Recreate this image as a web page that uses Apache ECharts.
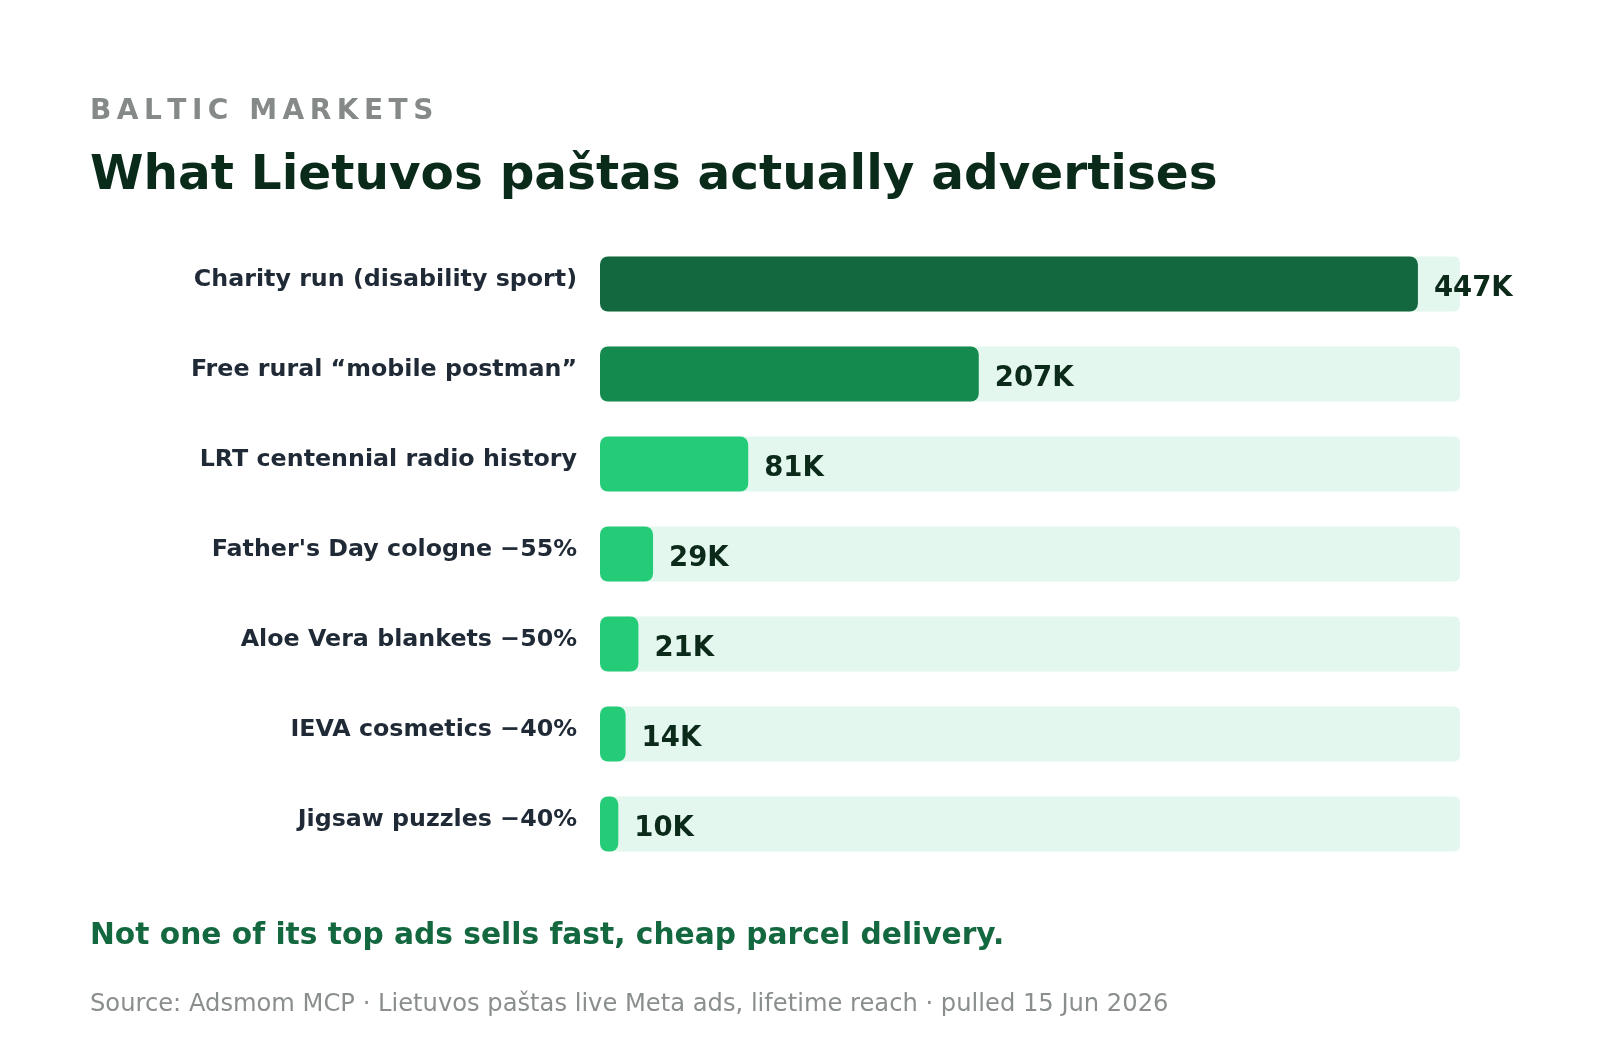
<!DOCTYPE html>
<html><head><meta charset="utf-8">
<script src="https://cdn.jsdelivr.net/npm/echarts@6/dist/echarts.min.js"></script>
<style>html,body{margin:0;padding:0;background:#fff}#c{width:1600px;height:1050px}</style>
</head><body><div id="c"></div>
<script>
// ---- data ----
const categories = [
  'Charity run (disability sport)',
  'Free rural \u201cmobile postman\u201d',
  'LRT centennial radio history',
  "Father's Day cologne \u221255%",
  'Aloe Vera blankets \u221250%',
  'IEVA cosmetics \u221240%',
  'Jigsaw puzzles \u221240%'
];
const reachK = [447, 207, 81, 29, 21, 14, 10];
const axisMaxK = 470;
const kickerText = 'BALTIC MARKETS';
const titleText = 'What Lietuvos pa\u0161tas actually advertises';
const takeawayText = 'Not one of its top ads sells fast, cheap parcel delivery.';
const sourceText = 'Source: Adsmom MCP \u00b7 Lietuvos pa\u0161tas live Meta ads, lifetime reach \u00b7 pulled 15 Jun 2026';

// ---- styles ----
const FONT = '"DejaVu Sans", sans-serif';
const rankColors = ['#14683f', '#158a4e', '#25cc78'];

const chart = echarts.init(document.getElementById('c'), null, {renderer: 'canvas'});

// letter-spaced kicker, built char by char
const mctx = document.createElement('canvas').getContext('2d');
const kSize = 28, kSpacing = 5.5;
mctx.font = 'bold ' + kSize + 'px ' + FONT;
const kickerEls = [];
let kx = 90;
for (const ch of kickerText) {
  kickerEls.push({type: 'text', x: kx, y: 112, silent: true,
    style: {text: ch, fontFamily: FONT, fontWeight: 'bold', fontSize: kSize, fill: '#858a88', verticalAlign: 'middle', align: 'left'}});
  kx += mctx.measureText(ch).width + kSpacing;
}

const option = {
  backgroundColor: '#ffffff',
  animation: false,
  grid: {left: 600, right: 140, top: 239, height: 630, containLabel: false},
  xAxis: {type: 'value', min: 0, max: axisMaxK, show: false},
  yAxis: {
    type: 'category', data: categories, inverse: true,
    axisLine: {show: false}, axisTick: {show: false}, splitLine: {show: false},
    axisLabel: {margin: 23, fontFamily: FONT, fontWeight: 'bold', fontSize: 23.75, color: '#1f2a36',
      verticalAlign: 'bottom', lineHeight: 9}
  },
  series: [{
    type: 'bar', barWidth: 55,
    data: reachK.map((v, i) => ({value: v, itemStyle: {color: rankColors[Math.min(i, 2)]}})),
    itemStyle: {borderRadius: 8},
    showBackground: true,
    backgroundStyle: {color: '#e3f7ee', borderRadius: 6},
    label: {show: true, position: 'right', distance: 16, offset: [0, 5],
      formatter: p => p.value + 'K',
      fontFamily: FONT, fontWeight: 'bold', fontSize: 27.5, color: '#0b2a1a'}
  }],
  graphic: kickerEls.concat([
    {type: 'text', x: 90, y: 176, silent: true,
      style: {text: titleText, fontFamily: FONT, fontWeight: 'bold', fontSize: 48.5, fill: '#0a2a1a', verticalAlign: 'middle'}},
    {type: 'text', x: 90, y: 936, silent: true,
      style: {text: takeawayText, fontFamily: FONT, fontWeight: 'bold', fontSize: 29.7, fill: '#14683f', verticalAlign: 'middle'}},
    {type: 'text', x: 90, y: 1005, silent: true,
      style: {text: sourceText, fontFamily: FONT, fontSize: 24.2, fill: '#8a8f8d', verticalAlign: 'middle'}}
  ])
};
chart.setOption(option);
</script></body></html>
